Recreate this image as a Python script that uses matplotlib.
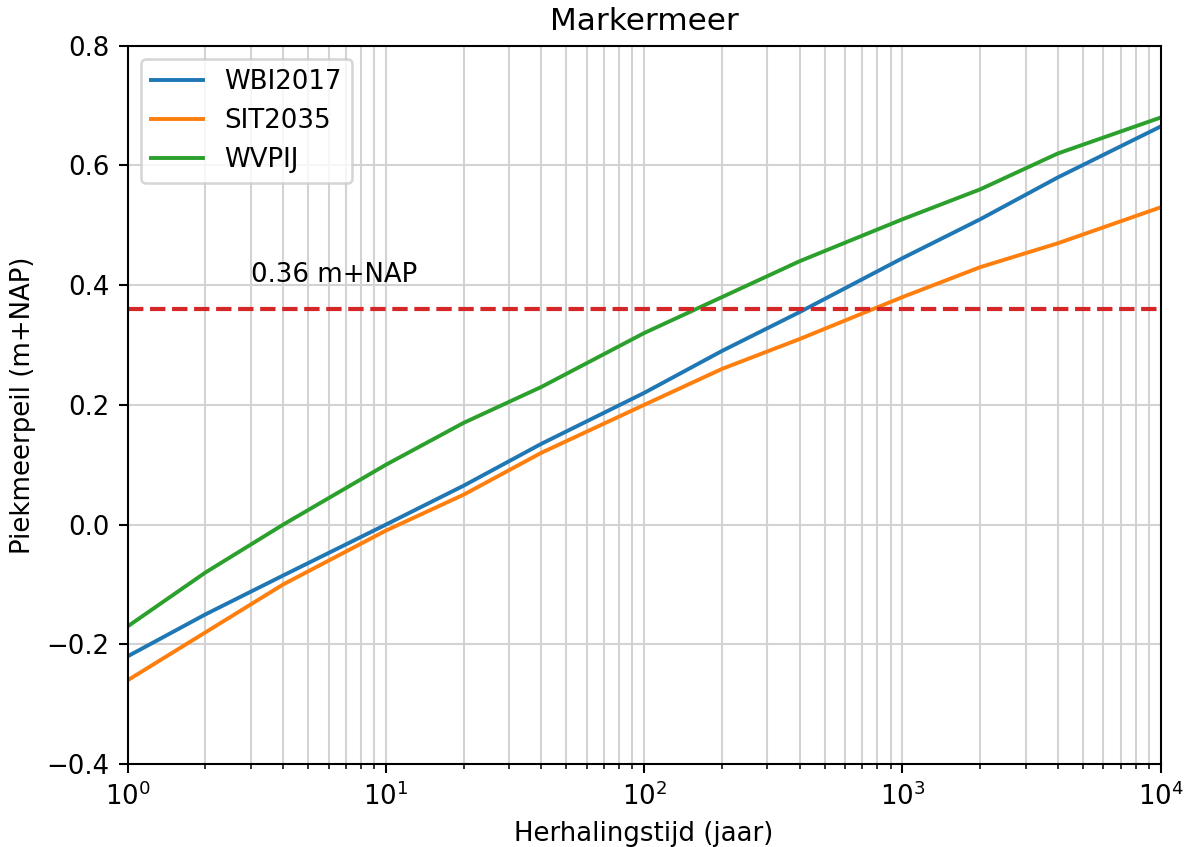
import matplotlib
matplotlib.use("Agg")
import matplotlib.pyplot as plt

# herhalingstijden (jaar) en piekmeerpeilen (m+NAP)
T = [1, 2, 4, 10, 20, 40, 100, 200, 400, 1000, 2000, 4000, 10000]
wbi2017 = [-0.22, -0.15, -0.085, 0.0, 0.065, 0.135, 0.22, 0.29, 0.355, 0.445, 0.51, 0.58, 0.665]
sit2035 = [-0.26, -0.18, -0.10, -0.01, 0.05, 0.12, 0.20, 0.26, 0.31, 0.38, 0.43, 0.47, 0.53]
wvpij = [-0.17, -0.08, 0.0, 0.10, 0.17, 0.23, 0.32, 0.38, 0.44, 0.51, 0.56, 0.62, 0.68]
grenspeil = 0.36

dpi = 187
fig = plt.figure(figsize=(1194 / dpi, 847 / dpi), dpi=dpi)
ax = fig.add_axes([0.107, 0.098, 0.865, 0.848])

ax.plot(T, wbi2017, label='WBI2017', color='tab:blue')
ax.plot(T, sit2035, label='SIT2035', color='tab:orange')
ax.plot(T, wvpij, label='WVPIJ', color='tab:green')
ax.axhline(grenspeil, color='tab:red', linestyle='--', linewidth=1.6)
ax.text(3, 0.405, f'{grenspeil:.2f} m+NAP')

ax.set_xscale('log')
ax.set_xlim(1, 1e4)
ax.set_ylim(-0.4, 0.8)
ax.grid(True, which='both', color='#d3d3d3', linewidth=0.8)
ax.set_title('Markermeer')
ax.set_xlabel('Herhalingstijd (jaar)')
ax.set_ylabel('Piekmeerpeil (m+NAP)')
ax.legend(loc='upper left')

fig.savefig('out.png', dpi=dpi)
